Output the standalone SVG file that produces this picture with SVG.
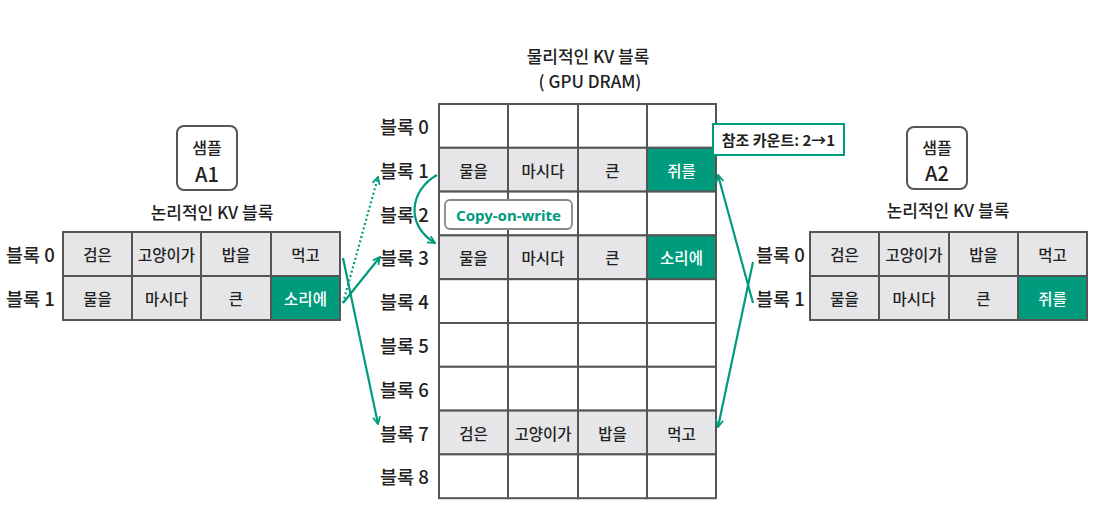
<svg xmlns="http://www.w3.org/2000/svg" width="1105" height="521" viewBox="0 0 1105 521">
<defs>
<style>
text{font-family:"Noto Sans CJK KR","Noto Sans",sans-serif;fill:#222;font-weight:500;}
.c{font-size:15.5px;text-anchor:middle;dominant-baseline:central;}
.w{fill:#fff;}
.lb{font-size:18.5px;dominant-baseline:central;}
.t{font-size:17px;text-anchor:middle;}
.g{fill:#e6e6e8;stroke:#555;stroke-width:2;}
.e{fill:#fff;stroke:#555;stroke-width:2;}
.k{fill:#009b7d;stroke:#555;stroke-width:2;}
.a{fill:none;stroke:#009b7d;stroke-width:2.2;}
</style>
<marker id="ah" viewBox="0 0 10 10" refX="9" refY="5" markerWidth="9" markerHeight="9" markerUnits="userSpaceOnUse" orient="auto">
<path d="M1,1 L9,5 L1,9" fill="none" stroke="#009b7d" stroke-width="2"/>
</marker>
</defs>
<rect width="1105" height="521" fill="#fff"/>

<g id="sampleA1">
<rect x="177" y="126" width="60" height="64" rx="7" fill="#fff" stroke="#555" stroke-width="2"/>
<text x="207" y="154" class="t" style="font-size:16px">샘플</text>
<text x="207" y="182" class="t" style="font-size:20px">A1</text>
</g>

<g id="logicalA1">
<text x="212" y="219" class="t">논리적인 KV 블록</text>
<text x="6" y="254" class="lb">블록 0</text>
<text x="6" y="298" class="lb">블록 1</text>
<rect x="63" y="232" width="69" height="44" class="g"/>
<rect x="132" y="232" width="69" height="44" class="g"/>
<rect x="201" y="232" width="70" height="44" class="g"/>
<rect x="271" y="232" width="69" height="44" class="g"/>
<rect x="63" y="276" width="69" height="44" class="g"/>
<rect x="132" y="276" width="69" height="44" class="g"/>
<rect x="201" y="276" width="70" height="44" class="g"/>
<rect x="271" y="276" width="69" height="44" class="k"/>
<text x="97.5" y="254" class="c">검은</text>
<text x="166.5" y="254" class="c">고양이가</text>
<text x="236" y="254" class="c">밥을</text>
<text x="305.5" y="254" class="c">먹고</text>
<text x="97.5" y="298" class="c">물을</text>
<text x="166.5" y="298" class="c">마시다</text>
<text x="236" y="298" class="c">큰</text>
<text x="305.5" y="298" class="c w">소리에</text>
</g>

<g id="physical">
<text x="588" y="63" class="t">물리적인 KV 블록</text>
<text x="590" y="88" class="t">( GPU DRAM)</text>
<g id="row0">
<text x="380" y="126" class="lb">블록 0</text>
<rect x="439" y="104" width="69" height="43.8" class="e"/>
<rect x="508" y="104" width="70" height="43.8" class="e"/>
<rect x="578" y="104" width="69" height="43.8" class="e"/>
<rect x="647" y="104" width="69" height="43.8" class="e"/>
</g>
<g id="row1">
<text x="380" y="170" class="lb">블록 1</text>
<rect x="439" y="147.8" width="69" height="43.8" class="g"/>
<rect x="508" y="147.8" width="70" height="43.8" class="g"/>
<rect x="578" y="147.8" width="69" height="43.8" class="g"/>
<rect x="647" y="147.8" width="69" height="43.8" class="k"/>
<text x="473.5" y="170" class="c">물을</text>
<text x="543" y="170" class="c">마시다</text>
<text x="612.5" y="170" class="c">큰</text>
<text x="681.5" y="170" class="c w">쥐를</text>
</g>
<g id="row2">
<text x="380" y="213.5" class="lb">블록 2</text>
<rect x="439" y="191.6" width="69" height="43.8" class="e"/>
<rect x="508" y="191.6" width="70" height="43.8" class="e"/>
<rect x="578" y="191.6" width="69" height="43.8" class="e"/>
<rect x="647" y="191.6" width="69" height="43.8" class="e"/>
</g>
<g id="row3">
<text x="380" y="257" class="lb">블록 3</text>
<rect x="439" y="235.4" width="69" height="43.8" class="g"/>
<rect x="508" y="235.4" width="70" height="43.8" class="g"/>
<rect x="578" y="235.4" width="69" height="43.8" class="g"/>
<rect x="647" y="235.4" width="69" height="43.8" class="k"/>
<text x="473.5" y="257.3" class="c">물을</text>
<text x="543" y="257.3" class="c">마시다</text>
<text x="612.5" y="257.3" class="c">큰</text>
<text x="681.5" y="257.3" class="c w">소리에</text>
</g>
<g id="row4">
<text x="380" y="301" class="lb">블록 4</text>
<rect x="439" y="279.2" width="69" height="43.8" class="e"/>
<rect x="508" y="279.2" width="70" height="43.8" class="e"/>
<rect x="578" y="279.2" width="69" height="43.8" class="e"/>
<rect x="647" y="279.2" width="69" height="43.8" class="e"/>
</g>
<g id="row5">
<text x="380" y="345" class="lb">블록 5</text>
<rect x="439" y="323" width="69" height="43.8" class="e"/>
<rect x="508" y="323" width="70" height="43.8" class="e"/>
<rect x="578" y="323" width="69" height="43.8" class="e"/>
<rect x="647" y="323" width="69" height="43.8" class="e"/>
</g>
<g id="row6">
<text x="380" y="388.5" class="lb">블록 6</text>
<rect x="439" y="366.8" width="69" height="43.8" class="e"/>
<rect x="508" y="366.8" width="70" height="43.8" class="e"/>
<rect x="578" y="366.8" width="69" height="43.8" class="e"/>
<rect x="647" y="366.8" width="69" height="43.8" class="e"/>
</g>
<g id="row7">
<text x="380" y="432.5" class="lb">블록 7</text>
<rect x="439" y="410.6" width="69" height="43.8" class="g"/>
<rect x="508" y="410.6" width="70" height="43.8" class="g"/>
<rect x="578" y="410.6" width="69" height="43.8" class="g"/>
<rect x="647" y="410.6" width="69" height="43.8" class="g"/>
<text x="473.5" y="432.5" class="c">검은</text>
<text x="543" y="432.5" class="c">고양이가</text>
<text x="612.5" y="432.5" class="c">밥을</text>
<text x="681.5" y="432.5" class="c">먹고</text>
</g>
<g id="row8">
<text x="380" y="476" class="lb">블록 8</text>
<rect x="439" y="454.4" width="69" height="43.8" class="e"/>
<rect x="508" y="454.4" width="70" height="43.8" class="e"/>
<rect x="578" y="454.4" width="69" height="43.8" class="e"/>
<rect x="647" y="454.4" width="69" height="43.8" class="e"/>
</g>
</g>

<g id="copyOnWrite">
<rect x="445" y="200" width="127" height="29" rx="5" fill="#fff" stroke="#888" stroke-width="1.8"/>
<text x="508.5" y="214.5" style="font-family:'Noto Sans','Liberation Sans',sans-serif;font-size:15px;font-weight:bold;fill:#009b7d;text-anchor:middle;dominant-baseline:central">Copy-on-write</text>
</g>

<g id="refCount">
<rect x="713" y="124" width="131" height="31" fill="#fff" stroke="#009b7d" stroke-width="2"/>
<text x="778.5" y="139.5" style="font-size:15px;font-weight:bold;text-anchor:middle;dominant-baseline:central">참조 카운트: 2→1</text>
</g>

<g id="sampleA2">
<rect x="907" y="127" width="60" height="62" rx="7" fill="#fff" stroke="#555" stroke-width="2"/>
<text x="937" y="154" class="t" style="font-size:16px">샘플</text>
<text x="937" y="181" class="t" style="font-size:20px">A2</text>
</g>

<g id="logicalA2">
<text x="948" y="217" class="t">논리적인 KV 블록</text>
<text x="756" y="254" class="lb">블록 0</text>
<text x="756" y="298" class="lb">블록 1</text>
<rect x="810" y="232" width="69" height="44" class="g"/>
<rect x="879" y="232" width="70" height="44" class="g"/>
<rect x="949" y="232" width="69" height="44" class="g"/>
<rect x="1018" y="232" width="69" height="44" class="g"/>
<rect x="810" y="276" width="69" height="44" class="g"/>
<rect x="879" y="276" width="70" height="44" class="g"/>
<rect x="949" y="276" width="69" height="44" class="g"/>
<rect x="1018" y="276" width="69" height="44" class="k"/>
<text x="844.5" y="254" class="c">검은</text>
<text x="914" y="254" class="c">고양이가</text>
<text x="983.5" y="254" class="c">밥을</text>
<text x="1052.5" y="254" class="c">먹고</text>
<text x="844.5" y="298" class="c">물을</text>
<text x="914" y="298" class="c">마시다</text>
<text x="983.5" y="298" class="c">큰</text>
<text x="1052.5" y="298" class="c w">쥐를</text>
</g>

<g id="connectors">
<path d="M343,303 L378,177" class="a" stroke-dasharray="2,2.5" marker-end="url(#ah)"/>
<path d="M343,303 L380,257" class="a" marker-end="url(#ah)"/>
<path d="M343,258 L378,424" class="a" marker-end="url(#ah)"/>
<path d="M437,175 C410,190 405,225 435,243" class="a" marker-end="url(#ah)"/>
<path d="M753,303 L718,175" class="a" marker-end="url(#ah)"/>
<path d="M753,262 L718,427" class="a" marker-end="url(#ah)"/>
</g>
</svg>
